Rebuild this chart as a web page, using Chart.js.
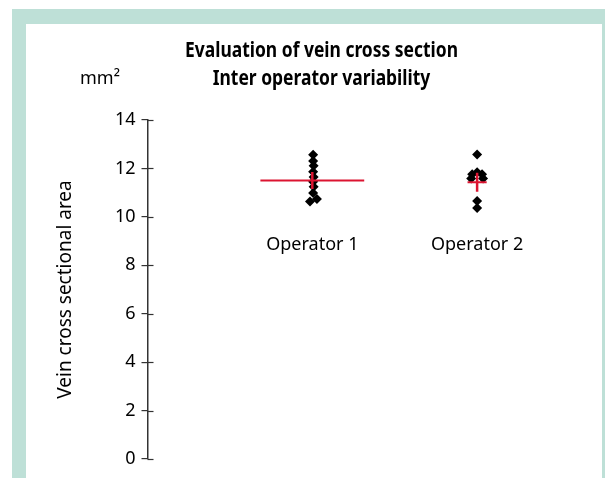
<!DOCTYPE html>
<html>
<head>
<meta charset="utf-8">
<script src="https://cdn.jsdelivr.net/npm/chart.js@4.4.1/dist/chart.umd.min.js"></script>
<style>
  html, body { margin: 0; padding: 0; background: #fff; }
  #wrap { position: relative; width: 605px; height: 478px; overflow: hidden; }
  .frame { position: absolute; left: 12px; top: 9px; width: 593px; height: 469px; background: #bee0d7; }
  .inner { position: absolute; left: 26px; top: 24px; width: 576px; height: 454px; background: #fff; }
  canvas { position: absolute; left: 0; top: 0; }
</style>
</head>
<body>
<div id="wrap">
  <div class="frame"></div>
  <div class="inner"></div>
  <canvas id="veinChart" width="605" height="478"></canvas>
</div>
<script>
// categories (x = 1, 2)
const categories = ['Operator 1', 'Operator 2'];
const yTicks = [0, 2, 4, 6, 8, 10, 12, 14];

const op1Values = [12.56, 12.31, 12.11, 11.86, 11.65, 11.45, 11.24, 10.99, 10.63, 10.74];
const op1Jitter = [0.005, 0.005, 0.008, 0.005, 0.008, 0.005, 0.008, 0.005, -0.014, 0.028];
const op2Values = [12.58, 11.84, 11.76, 11.76, 11.58, 11.58, 10.66, 10.37];
const op2Jitter = [0, 0, -0.03, 0.03, -0.036, 0.036, 0, 0];

// mean and standard deviation per operator
const means = [11.5, 11.43];
const sds = [0.35, 0.39];
const meanHalfWidth = [0.315, 0.058];

const RED = '#dc1431';
const FONT = "'Noto Sans', 'Open Sans', sans-serif";

function points(values, jitter, x) {
    return values.map((v, i) => ({ x: x + jitter[i], y: v }));
}

const datasets = [
    {
        label: categories[0],
        data: points(op1Values, op1Jitter, 1),
        pointStyle: 'rectRot',
        pointRadius: 5,
        backgroundColor: '#000',
        borderColor: '#000',
        borderWidth: 0,
        order: 2
    },
    {
        label: categories[1],
        data: points(op2Values, op2Jitter, 2),
        pointStyle: 'rectRot',
        pointRadius: 5,
        backgroundColor: '#000',
        borderColor: '#000',
        borderWidth: 0,
        order: 2
    }
];

// mean line and SD bar for each operator
means.forEach((m, i) => {
    const x = i + 1;
    datasets.push({
        label: 'mean ' + categories[i],
        data: [{ x: x - meanHalfWidth[i], y: m }, { x: x + meanHalfWidth[i], y: m }],
        showLine: true,
        borderColor: RED,
        borderWidth: 2,
        pointRadius: 0,
        order: 1
    });
    datasets.push({
        label: 'sd ' + categories[i],
        data: [{ x: x, y: m - sds[i] }, { x: x, y: m + sds[i] }],
        showLine: true,
        borderColor: RED,
        borderWidth: 2.5,
        pointRadius: 0,
        order: 1
    });
});

// text, inner tick stubs and category labels
const extras = {
    id: 'extras',
    afterDraw(chart) {
        const ctx = chart.ctx;
        const xs = chart.scales.x;
        const ys = chart.scales.y;
        ctx.save();
        // inward tick marks
        ctx.strokeStyle = '#333';
        ctx.lineWidth = 1.2;
        yTicks.forEach(t => {
            const y = Math.round(ys.getPixelForValue(t)) + 0.5;
            ctx.beginPath();
            ctx.moveTo(chart.chartArea.left, y);
            ctx.lineTo(chart.chartArea.left + 6, y);
            ctx.stroke();
        });
        ctx.fillStyle = '#000';
        ctx.textAlign = 'center';
        ctx.textBaseline = 'middle';
        // title, squeezed to the condensed look of the original
        ctx.save();
        ctx.font = 'bold 21px ' + FONT;
        const sx = 273 / ctx.measureText('Evaluation of vein cross section').width;
        ctx.translate(321.5, 0);
        ctx.scale(sx, 1);
        ctx.fillText('Evaluation of vein cross section', 0, 51);
        ctx.fillText('Inter operator variability', 0, 79);
        ctx.restore();
        // unit
        ctx.font = '18px ' + FONT;
        ctx.fillText('mm²', 100, 79);
        // category labels
        categories.forEach((c, i) => {
            ctx.fillText(c, xs.getPixelForValue(i + 1), ys.getPixelForValue(8.85));
        });
        ctx.restore();
    }
};

const config = {
    type: 'scatter',
    data: { datasets: datasets },
    options: {
        responsive: false,
        animation: false,
        layout: { padding: { left: 26, top: 120, right: 29, bottom: 19 } },
        plugins: {
            legend: { display: false },
            tooltip: { enabled: false },
            title: { display: false }
        },
        scales: {
            x: {
                type: 'linear',
                min: 0,
                max: 2.6,
                display: false
            },
            y: {
                min: 0,
                max: 14,
                afterFit(scale) { scale.width = 121.5; },
                afterBuildTicks(scale) { scale.ticks = yTicks.map(v => ({ value: v })); },
                ticks: {
                    color: '#000',
                    padding: 6,
                    font: { family: FONT, size: 18 }
                },
                grid: {
                    drawOnChartArea: false,
                    tickLength: 6,
                    color: '#333',
                    lineWidth: 1.2
                },
                border: { color: '#333', width: 1.5 },
                title: {
                    display: true,
                    text: 'Vein cross sectional area',
                    color: '#000',
                    padding: { top: 28, bottom: 0 },
                    font: { family: FONT, size: 19 }
                }
            }
        }
    },
    plugins: [extras]
};

new Chart(document.getElementById('veinChart'), config);
</script>
</body>
</html>
